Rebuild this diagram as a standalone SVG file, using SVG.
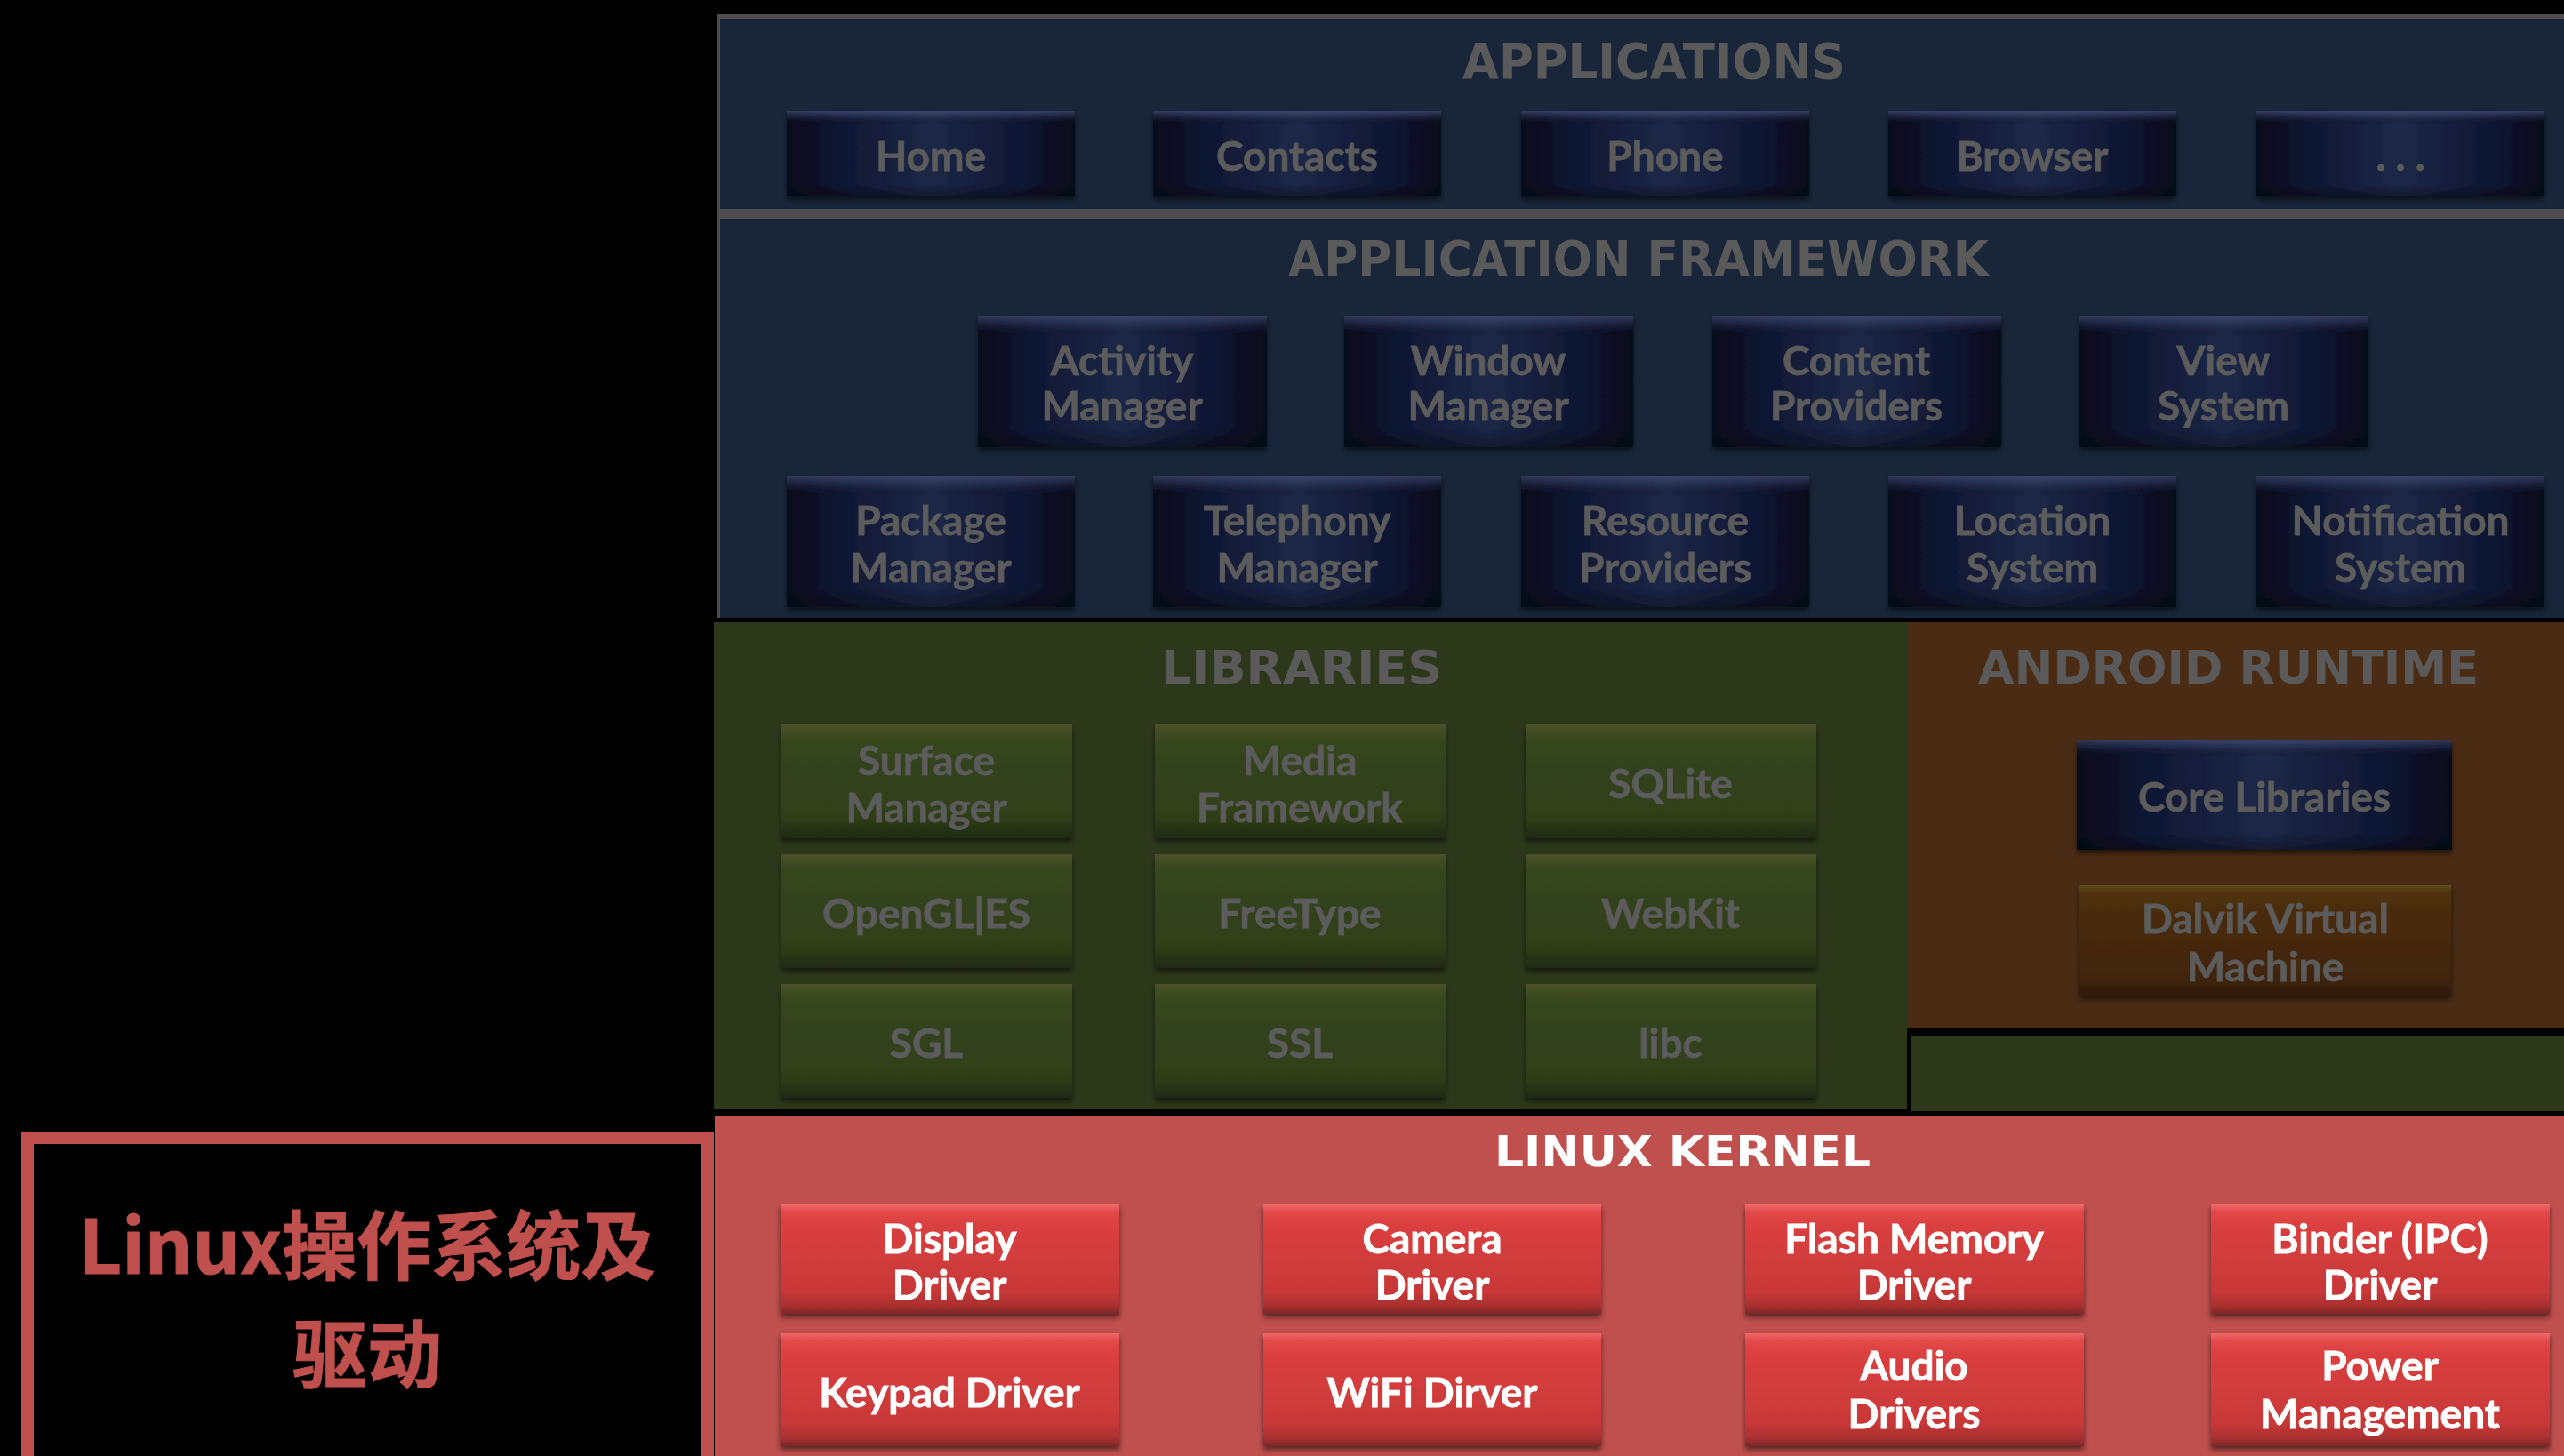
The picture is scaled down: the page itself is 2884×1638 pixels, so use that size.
<svg xmlns="http://www.w3.org/2000/svg" width="2884" height="1638" viewBox="0 0 2884 1638">
<style>
.bl{font-family:Lato,"Open Sans",sans-serif;font-weight:700;font-size:46px;fill:#5b5b5b;stroke:#5b5b5b;stroke-width:0.8px;text-anchor:middle}
.kl{font-family:Lato,"Open Sans",sans-serif;font-weight:700;font-size:46px;fill:#ffffff;stroke:#ffffff;stroke-width:0.8px;text-anchor:middle}
.tt{font-family:"DejaVu Sans",Verdana,sans-serif;font-weight:700;fill:#5a5a5a}
.kt{font-family:"DejaVu Sans",Verdana,sans-serif;font-weight:700;fill:#ffffff}
.cj{font-family:"Noto Sans CJK SC","Noto Sans",sans-serif;font-weight:700;font-size:84px;fill:#C0504D;stroke:#C0504D;stroke-width:1px;text-anchor:middle}
.bb{fill:url(#gBlue)}
.gb{fill:url(#gGreen)}
.rb{fill:url(#gRed)}
.ob{fill:url(#gBrown)}
.hl{fill:url(#gHl)}
.btn{filter:url(#sh)}
</style>
<defs>
<linearGradient id="gBlue" x1="0" y1="0" x2="1" y2="0">
<stop offset="0" stop-color="#060a1c"/><stop offset="0.18" stop-color="#0f1632"/><stop offset="0.5" stop-color="#1c2847"/><stop offset="0.82" stop-color="#0f1632"/><stop offset="1" stop-color="#060a1c"/>
</linearGradient>
<linearGradient id="gHl" x1="0" y1="0" x2="0" y2="1">
<stop offset="0" stop-color="#5a6488" stop-opacity="0.55"/><stop offset="0.07" stop-color="#3a4468" stop-opacity="0.35"/><stop offset="0.16" stop-color="#000" stop-opacity="0"/><stop offset="0.85" stop-color="#000" stop-opacity="0"/><stop offset="1" stop-color="#000" stop-opacity="0.35"/>
</linearGradient>
<linearGradient id="gGreen" x1="0" y1="0" x2="0" y2="1">
<stop offset="0" stop-color="#4b5128"/><stop offset="0.07" stop-color="#404c22"/><stop offset="0.16" stop-color="#35451c"/><stop offset="0.82" stop-color="#2f3e19"/><stop offset="1" stop-color="#1f2912"/>
</linearGradient>
<linearGradient id="gRed" x1="0" y1="0" x2="0" y2="1">
<stop offset="0" stop-color="#f06a6a"/><stop offset="0.07" stop-color="#e24848"/><stop offset="0.2" stop-color="#da3f3f"/><stop offset="0.8" stop-color="#c83838"/><stop offset="0.93" stop-color="#a82f2f"/><stop offset="1" stop-color="#7a2a2a"/>
</linearGradient>
<linearGradient id="gBrown" x1="0" y1="0" x2="0" y2="1">
<stop offset="0" stop-color="#5e4c1c"/><stop offset="0.06" stop-color="#50340f"/><stop offset="0.2" stop-color="#4b2d0c"/><stop offset="0.85" stop-color="#40240a"/><stop offset="1" stop-color="#2e1a08"/>
</linearGradient>
<filter id="sh" x="-5%" y="-5%" width="110%" height="120%">
<feDropShadow dx="0" dy="4" stdDeviation="3" flood-color="#000" flood-opacity="0.55"/>
</filter>
</defs>
<rect x="0" y="0" width="2884" height="1638" fill="#000"/>

<g id="layers">
<rect x="806" y="16" width="2078" height="679" fill="#4d4d4d"/>
<rect id="applications-panel" x="810" y="21" width="2074" height="214" fill="#19263a"/>
<rect id="framework-panel" x="810" y="246" width="2074" height="449" fill="#19263a"/>
<rect id="libraries-panel" x="803" y="700" width="1342" height="548" fill="#2d381b"/>
<rect id="runtime-panel" x="2145" y="700" width="739" height="457" fill="#4a2c15"/>
<rect x="2150" y="1165" width="734" height="85" fill="#2d381b"/>
<rect id="kernel-panel" x="804" y="1256" width="2080" height="382" fill="#C0504D"/>
</g>

<g id="titles">
<text class="tt" x="1645" y="88" font-size="55" textLength="431" lengthAdjust="spacingAndGlyphs">APPLICATIONS</text>
<text class="tt" x="1449" y="310" font-size="55" textLength="788" lengthAdjust="spacingAndGlyphs">APPLICATION FRAMEWORK</text>
<text class="tt" x="1306" y="769" font-size="51" textLength="316" lengthAdjust="spacingAndGlyphs">LIBRARIES</text>
<text class="tt" x="2225" y="769" font-size="51" textLength="563" lengthAdjust="spacingAndGlyphs">ANDROID RUNTIME</text>
<text class="kt" x="1681" y="1312" font-size="48" textLength="423" lengthAdjust="spacingAndGlyphs">LINUX KERNEL</text>
</g>

<g id="app-home" class="btn"><rect class="bb" x="885" y="125" width="324" height="96"/><rect class="hl" x="885" y="125" width="324" height="96"/><text class="bl" x="1047" y="192">Home</text></g>
<g id="app-contacts" class="btn"><rect class="bb" x="1297" y="125" width="324" height="96"/><rect class="hl" x="1297" y="125" width="324" height="96"/><text class="bl" x="1459" y="192">Contacts</text></g>
<g id="app-phone" class="btn"><rect class="bb" x="1711" y="125" width="324" height="96"/><rect class="hl" x="1711" y="125" width="324" height="96"/><text class="bl" x="1873" y="192">Phone</text></g>
<g id="app-browser" class="btn"><rect class="bb" x="2124" y="125" width="324" height="96"/><rect class="hl" x="2124" y="125" width="324" height="96"/><text class="bl" x="2286" y="192">Browser</text></g>
<g id="app-more" class="btn"><rect class="bb" x="2538" y="125" width="324" height="96"/><rect class="hl" x="2538" y="125" width="324" height="96"/><text class="bl" x="2700" y="192">. . .</text></g>

<g id="fw-activity" class="btn"><rect class="bb" x="1100" y="355" width="325" height="148"/><rect class="hl" x="1100" y="355" width="325" height="148"/><text class="bl" x="1262" y="422">Activity</text><text class="bl" x="1262" y="473">Manager</text></g>
<g id="fw-window" class="btn"><rect class="bb" x="1512" y="355" width="325" height="148"/><rect class="hl" x="1512" y="355" width="325" height="148"/><text class="bl" x="1674" y="422">Window</text><text class="bl" x="1674" y="473">Manager</text></g>
<g id="fw-content" class="btn"><rect class="bb" x="1926" y="355" width="325" height="148"/><rect class="hl" x="1926" y="355" width="325" height="148"/><text class="bl" x="2088" y="422">Content</text><text class="bl" x="2088" y="473">Providers</text></g>
<g id="fw-view" class="btn"><rect class="bb" x="2339" y="355" width="325" height="148"/><rect class="hl" x="2339" y="355" width="325" height="148"/><text class="bl" x="2501" y="422">View</text><text class="bl" x="2501" y="473">System</text></g>
<g id="fw-package" class="btn"><rect class="bb" x="885" y="535" width="324" height="148"/><rect class="hl" x="885" y="535" width="324" height="148"/><text class="bl" x="1047" y="602">Package</text><text class="bl" x="1047" y="655">Manager</text></g>
<g id="fw-telephony" class="btn"><rect class="bb" x="1297" y="535" width="324" height="148"/><rect class="hl" x="1297" y="535" width="324" height="148"/><text class="bl" x="1459" y="602">Telephony</text><text class="bl" x="1459" y="655">Manager</text></g>
<g id="fw-resource" class="btn"><rect class="bb" x="1711" y="535" width="324" height="148"/><rect class="hl" x="1711" y="535" width="324" height="148"/><text class="bl" x="1873" y="602">Resource</text><text class="bl" x="1873" y="655">Providers</text></g>
<g id="fw-location" class="btn"><rect class="bb" x="2124" y="535" width="324" height="148"/><rect class="hl" x="2124" y="535" width="324" height="148"/><text class="bl" x="2286" y="602">Location</text><text class="bl" x="2286" y="655">System</text></g>
<g id="fw-notification" class="btn"><rect class="bb" x="2538" y="535" width="324" height="148"/><rect class="hl" x="2538" y="535" width="324" height="148"/><text class="bl" x="2700" y="602">Notification</text><text class="bl" x="2700" y="655">System</text></g>

<g id="lib-surface" class="btn"><rect class="gb" x="879" y="815" width="327" height="128"/><text class="bl" x="1042" y="872">Surface</text><text class="bl" x="1042" y="925">Manager</text></g>
<g id="lib-media" class="btn"><rect class="gb" x="1299" y="815" width="327" height="128"/><text class="bl" x="1462" y="872">Media</text><text class="bl" x="1462" y="925">Framework</text></g>
<g id="lib-sqlite" class="btn"><rect class="gb" x="1716" y="815" width="327" height="128"/><text class="bl" x="1879" y="898">SQLite</text></g>
<g id="lib-opengl" class="btn"><rect class="gb" x="879" y="961" width="327" height="128"/><text class="bl" x="1042" y="1044">OpenGL|ES</text></g>
<g id="lib-freetype" class="btn"><rect class="gb" x="1299" y="961" width="327" height="128"/><text class="bl" x="1462" y="1044">FreeType</text></g>
<g id="lib-webkit" class="btn"><rect class="gb" x="1716" y="961" width="327" height="128"/><text class="bl" x="1879" y="1044">WebKit</text></g>
<g id="lib-sgl" class="btn"><rect class="gb" x="879" y="1107" width="327" height="128"/><text class="bl" x="1042" y="1190">SGL</text></g>
<g id="lib-ssl" class="btn"><rect class="gb" x="1299" y="1107" width="327" height="128"/><text class="bl" x="1462" y="1190">SSL</text></g>
<g id="lib-libc" class="btn"><rect class="gb" x="1716" y="1107" width="327" height="128"/><text class="bl" x="1879" y="1190">libc</text></g>

<g id="rt-core" class="btn"><rect class="bb" x="2336" y="832" width="422" height="124"/><rect class="hl" x="2336" y="832" width="422" height="124"/><text class="bl" x="2547" y="913">Core Libraries</text></g>
<g id="rt-dalvik" class="btn"><rect class="ob" x="2339" y="996" width="418" height="124"/><text class="bl" x="2548" y="1050">Dalvik Virtual</text><text class="bl" x="2548" y="1104">Machine</text></g>

<g id="k-display" class="btn"><rect class="rb" x="878" y="1355" width="381" height="123"/><text class="kl" x="1068" y="1410">Display</text><text class="kl" x="1068" y="1462">Driver</text></g>
<g id="k-camera" class="btn"><rect class="rb" x="1421" y="1355" width="380" height="123"/><text class="kl" x="1611" y="1410">Camera</text><text class="kl" x="1611" y="1462">Driver</text></g>
<g id="k-flash" class="btn"><rect class="rb" x="1963" y="1355" width="381" height="123"/><text class="kl" x="2153" y="1410">Flash Memory</text><text class="kl" x="2153" y="1462">Driver</text></g>
<g id="k-binder" class="btn"><rect class="rb" x="2487" y="1355" width="381" height="123"/><text class="kl" x="2677" y="1410">Binder (IPC)</text><text class="kl" x="2677" y="1462">Driver</text></g>
<g id="k-keypad" class="btn"><rect class="rb" x="878" y="1500" width="381" height="127"/><text class="kl" x="1068" y="1583">Keypad Driver</text></g>
<g id="k-wifi" class="btn"><rect class="rb" x="1421" y="1500" width="380" height="127"/><text class="kl" x="1611" y="1583">WiFi Dirver</text></g>
<g id="k-audio" class="btn"><rect class="rb" x="1963" y="1500" width="381" height="127"/><text class="kl" x="2153" y="1553">Audio</text><text class="kl" x="2153" y="1607">Drivers</text></g>
<g id="k-power" class="btn"><rect class="rb" x="2487" y="1500" width="381" height="127"/><text class="kl" x="2677" y="1553">Power</text><text class="kl" x="2677" y="1607">Management</text></g>

<g id="linux-label">
<rect x="31" y="1280" width="765" height="420" fill="#000" stroke="#C0504D" stroke-width="14"/>
<text class="cj" x="413" y="1433">Linux操作系统及</text>
<text class="cj" x="413" y="1555">驱动</text>
</g>

<g id="connectors"></g>
</svg>
